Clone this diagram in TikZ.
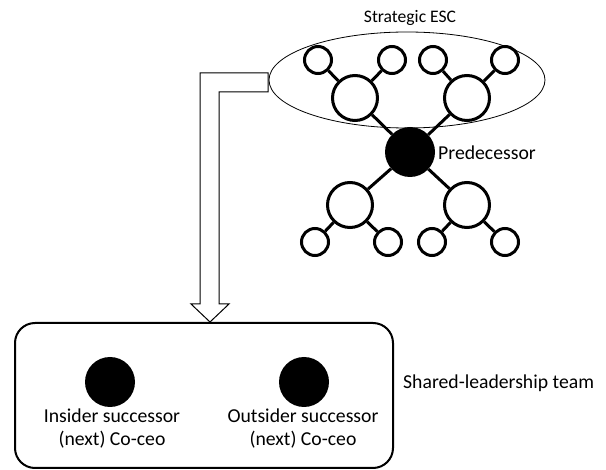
\documentclass[tikz,border=0pt]{standalone}
\usepackage{fontspec}
\setmainfont{Carlito}
\usetikzlibrary{shapes.geometric}
\begin{document}
\begin{tikzpicture}[x=1pt,y=-1pt,
  big/.style={circle,draw,line width=3pt,minimum size=45pt,inner sep=0pt,fill=white},
  small/.style={circle,draw,line width=3pt,minimum size=27pt,inner sep=0pt,fill=white},
  boss/.style={circle,fill=black,minimum size=50pt,inner sep=0pt},
  link/.style={line width=3pt},
  coceo/.style={circle,fill=black,minimum size=50pt,inner sep=0pt},
  lbl/.style={font=\fontsize{19.7}{23}\selectfont,inner sep=0pt,align=center}
]
\useasboundingbox (0,0) rectangle (606,470);
% ellipse (strategic ESC)
\node[ellipse,draw,line width=0.8pt,minimum width=276pt,minimum height=96pt,inner sep=0pt] (esc) at (407,80) {};
\node[font=\fontsize{17.6}{21}\selectfont,inner sep=0pt] (esct) at (410,18) {Strategic ESC};
% tree
\node[boss] (p) at (410,152) {};
\node[big] (ul) at (355,98) {};
\node[big] (ur) at (467,98) {};
\node[big] (ll) at (350,205) {};
\node[big] (lr) at (467,205) {};
\node[small] (s1) at (318,60) {};
\node[small] (s2) at (392,60) {};
\node[small] (s3) at (433,60) {};
\node[small] (s4) at (505,60) {};
\node[small] (t1) at (315,242) {};
\node[small] (t2) at (388,242) {};
\node[small] (t3) at (432,242) {};
\node[small] (t4) at (505,242) {};
\draw[link] (p) -- (ul); \draw[link] (p) -- (ur);
\draw[link] (p) -- (ll); \draw[link] (p) -- (lr);
\draw[link] (ul) -- (s1); \draw[link] (ul) -- (s2);
\draw[link] (ur) -- (s3); \draw[link] (ur) -- (s4);
\draw[link] (ll) -- (t1); \draw[link] (ll) -- (t2);
\draw[link] (lr) -- (t3); \draw[link] (lr) -- (t4);
\node[lbl,anchor=west] (pt) at (438,153) {Predecessor};
% block arrow
\draw[line width=1pt,fill=white,line join=miter]
  (268,73) -- (200,73) -- (200,304) -- (191,304) -- (210,322) -- (229,304)
  -- (219,304) -- (219,92) -- (268,92) -- cycle;
% team box
\draw[line width=2pt,rounded corners=20pt] (15,323) rectangle (393,468);
\node[coceo] (c1) at (110,382) {};
\node[coceo] (c2) at (304,382) {};
\node[lbl] (c1t) at (112,429) {Insider successor\\(next) Co-ceo};
\node[lbl] (c2t) at (303,429) {Outsider successor\\(next) Co-ceo};
\node[lbl,anchor=west] (team) at (403,383) {Shared-leadership team};
\end{tikzpicture}
\end{document}
